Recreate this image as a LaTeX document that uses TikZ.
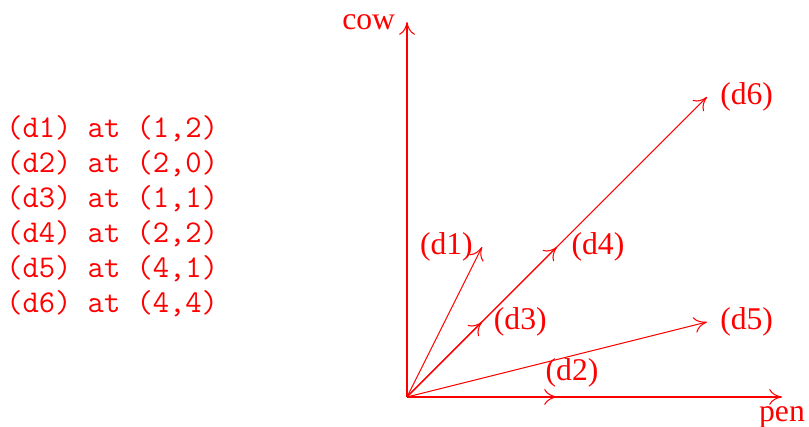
\documentclass[tikz,border=0pt]{standalone}
\usepackage{fontspec}
\setmainfont{Liberation Serif}
\usetikzlibrary{positioning,arrows.meta}

\begin{document}
\begin{tikzpicture}[
  vec/.style={-{To[length=1.7mm,width=2.1mm]}, red},
  lbl/.style={text=red, font=\fontsize{12}{14}\selectfont},
  listing/.style={text=red, align=left, inner sep=0pt,
                  font=\fontsize{12}{13.3}\selectfont\ttfamily}
]
\useasboundingbox (-5.427,-0.4) rectangle (5.36,5.293);
\coordinate (o) at (0,0);
\coordinate (xend) at (5,0);
\coordinate (yend) at (0,5);
\coordinate (d1) at (1,2);
\coordinate (d2) at (2,0);
\coordinate (d3) at (1,1);
\coordinate (d4) at (2,2);
\coordinate (d5) at (4,1);
\coordinate (d6) at (4,4);
\draw[vec] (o) -- (xend);
\draw[vec] (o) -- (yend);
\foreach \d in {d1,d2,d3,d4,d5,d6}{\draw[vec] (o) -- (\d);}
\node[lbl, left=1pt of yend] (cow) {cow};
\node[lbl, below=0pt of xend] (pen) {pen};
\node[lbl, left=0pt of d1] (l1) {(d1)};
\node[lbl, above=0pt of d2, xshift=2mm] (l2) {(d2)};
\node[lbl, right=1pt of d3] (l3) {(d3)};
\node[lbl, right=2pt of d4] (l4) {(d4)};
\node[lbl, right=1.5pt of d5] (l5) {(d5)};
\node[lbl, right=1.5pt of d6] (l6) {(d6)};
\node[listing, anchor=west] (list) at (-5.35,2.41)
  {(d1) at (1,2)\\(d2) at (2,0)\\(d3) at (1,1)\\(d4) at (2,2)\\(d5) at (4,1)\\(d6) at (4,4)};
\end{tikzpicture}
\end{document}
